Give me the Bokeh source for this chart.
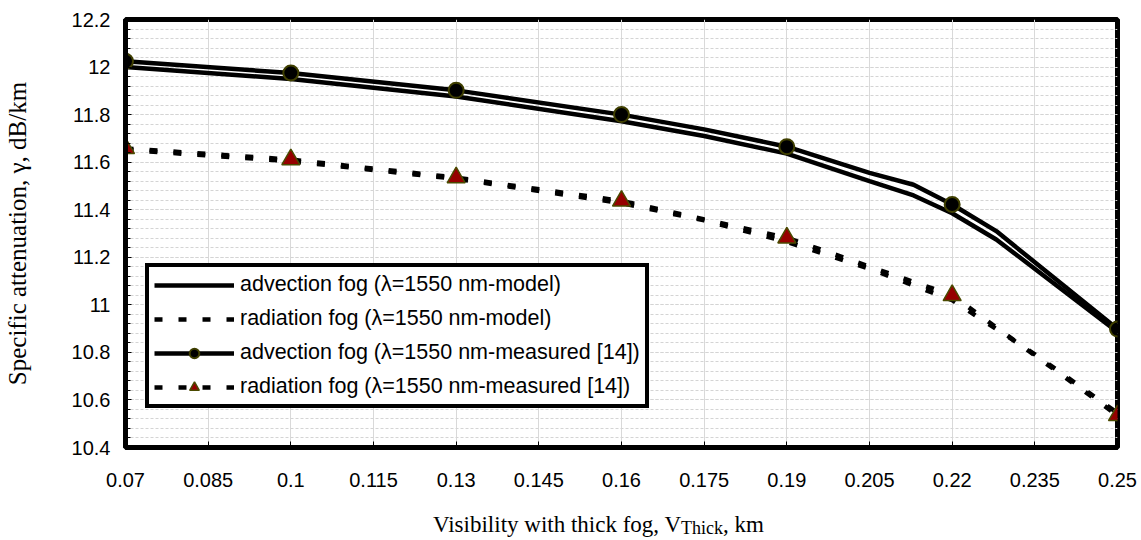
from bokeh.plotting import figure
from bokeh.models import FixedTicker, Legend, LegendItem, Div
from bokeh.layouts import column
from bokeh.embed import file_html
from bokeh.resources import INLINE

# ---------------- data ----------------
# measured points (markers)
meas_x = [0.07, 0.1, 0.13, 0.16, 0.19, 0.22, 0.25]
adv_meas_y = [12.024, 11.975, 11.902, 11.800, 11.665, 11.422, 10.898]
rad_meas_y = [11.658, 11.611, 11.535, 11.437, 11.282, 11.040, 10.535]

# advection measured curve (line through markers, with intermediate points)
adv_meas_line_x = [0.07, 0.1, 0.13, 0.16, 0.175, 0.19, 0.205, 0.213, 0.22, 0.228, 0.25]
adv_meas_line_y = [12.024, 11.975, 11.902, 11.800, 11.738, 11.665, 11.555, 11.505, 11.422, 11.310, 10.898]

# advection model curve
adv_model_x = [0.07, 0.1, 0.13, 0.16, 0.175, 0.19, 0.205, 0.213, 0.22, 0.228, 0.25]
adv_model_y = [12.000, 11.950, 11.876, 11.772, 11.710, 11.636, 11.520, 11.460, 11.385, 11.275, 10.886]

# radiation model curve
rad_model_x = [0.07, 0.1, 0.13, 0.16, 0.175, 0.19, 0.205, 0.22, 0.235, 0.25]
rad_model_y = [11.652, 11.604, 11.530, 11.428, 11.355, 11.265, 11.152, 11.020, 10.792, 10.545]

x_ticks = [0.07, 0.085, 0.1, 0.115, 0.13, 0.145, 0.16, 0.175, 0.19, 0.205, 0.22, 0.235, 0.25]
x_tick_labels = ["0.07", "0.085", "0.1", "0.115", "0.13", "0.145", "0.16", "0.175",
                 "0.19", "0.205", "0.22", "0.235", "0.25"]
y_ticks = [10.4, 10.6, 10.8, 11.0, 11.2, 11.4, 11.6, 11.8, 12.0, 12.2]
y_tick_labels = ["10.4", "10.6", "10.8", "11", "11.2", "11.4", "11.6", "11.8", "12", "12.2"]
y_minor_step = 0.04

legend_labels = [
    "advection fog (\u03bb=1550 nm-model)",
    "radiation fog (\u03bb=1550 nm-model)",
    "advection fog (\u03bb=1550 nm-measured [14])",
    "radiation fog (\u03bb=1550 nm-measured [14])",
]
y_title = "Specific attenuation, \u03b3, dB/km"
x_title_main = "Visibility with thick fog, V"
x_title_sub = "Thick"
x_title_end = ", km"

# ---------------- figure ----------------
p = figure(width=1141, height=510, x_range=(0.07, 0.25), y_range=(10.4, 12.2),
           output_backend="svg", toolbar_location=None,
           min_border_left=123, min_border_right=24, min_border_top=19, min_border_bottom=63)
p.background_fill_color = "white"
p.border_fill_color = "white"
p.outline_line_color = "black"
p.outline_line_width = 5
p.outline_line_alpha = 1

# axes
p.xaxis.ticker = FixedTicker(ticks=x_ticks)
p.xaxis.major_label_overrides = {t: l for t, l in zip(x_ticks, x_tick_labels)}
y_minor = [round(y_ticks[0] + y_minor_step * i, 3)
           for i in range(int(round((y_ticks[-1] - y_ticks[0]) / y_minor_step)) + 1)]
p.yaxis.ticker = FixedTicker(ticks=y_ticks, minor_ticks=y_minor)
p.yaxis.major_label_overrides = {t: l for t, l in zip(y_ticks, y_tick_labels)}

for ax in (p.xaxis[0], p.yaxis[0]):
    ax.axis_line_color = "black"
    ax.axis_line_width = 5
    ax.major_tick_in = 6
    ax.major_tick_out = 0
    ax.minor_tick_in = 5
    ax.minor_tick_out = 0
    ax.major_tick_line_color = "black"
    ax.minor_tick_line_color = "black"
    ax.major_tick_line_width = 1
    ax.major_label_text_font = "Liberation Sans"
    ax.major_label_text_font_size = "20px"
    ax.major_label_text_color = "black"
p.xaxis.minor_tick_line_color = None
p.xaxis.major_label_standoff = 25
p.yaxis.major_label_standoff = 15

p.yaxis.axis_label = y_title
p.yaxis.axis_label_text_font = "Liberation Serif"
p.yaxis.axis_label_text_font_size = "25px"
p.yaxis.axis_label_text_font_style = "normal"
p.yaxis.axis_label_text_color = "black"
p.yaxis.axis_label_standoff = 38

# grid
p.xgrid.grid_line_color = "#d9d9d9"
p.xgrid.grid_line_width = 1
p.ygrid.grid_line_color = "#d4d4d4"
p.ygrid.grid_line_dash = "3 2"
p.ygrid.minor_grid_line_color = "#d4d4d4"
p.ygrid.minor_grid_line_dash = "3 2"

# ---------------- series ----------------
r_adv_model = p.line(adv_model_x, adv_model_y, line_color="black", line_width=4.5)
r_rad_model = p.line(rad_model_x, rad_model_y, line_color="black", line_width=4.5,
                     line_dash="8 16")
r_adv_line = p.line(adv_meas_line_x, adv_meas_line_y, line_color="black", line_width=4.5)
r_rad_line = p.line(meas_x, rad_meas_y, line_color="black", line_width=4.5,
                    line_dash="8 16")
r_adv_pts = p.scatter(meas_x, adv_meas_y, marker="circle", size=15,
                      fill_color="black", line_color="#3f3f00", line_width=2)
r_rad_pts = p.scatter(meas_x, rad_meas_y, marker="triangle", size=18,
                      fill_color="#960000", line_color="#4a4a00", line_width=1.5)

legend = Legend(items=[
    LegendItem(label=legend_labels[0], renderers=[r_adv_model]),
    LegendItem(label=legend_labels[1], renderers=[r_rad_model]),
    LegendItem(label=legend_labels[2], renderers=[r_adv_line, r_adv_pts]),
    LegendItem(label=legend_labels[3], renderers=[r_rad_line, r_rad_pts]),
], location=(20, 39))
legend.border_line_color = "black"
legend.border_line_alpha = 1
legend.border_line_width = 4
legend.background_fill_color = "white"
legend.background_fill_alpha = 1
legend.padding = 5
legend.spacing = 9
legend.margin = 0
legend.glyph_width = 80
legend.glyph_height = 24
legend.label_height = 24
legend.label_standoff = 6
legend.label_text_font = "Liberation Sans"
legend.label_text_font_size = "21.5px"
legend.label_text_color = "black"
p.add_layout(legend)

# ---------------- x-axis title (with subscript) ----------------
x_div = Div(
    text=(
        '<div style="position:relative; left:433px; font-family:\'Liberation Serif\'; '
        'font-size:23px; line-height:30px; white-space:nowrap; color:black;">'
        + x_title_main
        + '<span style="font-size:18px; position:relative; top:2px;">' + x_title_sub + '</span>'
        + x_title_end + '</div>'
    ),
    width=1141, height=30, margin=(0, 0, 0, 0),
)

layout = column(p, x_div, spacing=0)
open("out.html", "w").write(file_html(layout, INLINE))
